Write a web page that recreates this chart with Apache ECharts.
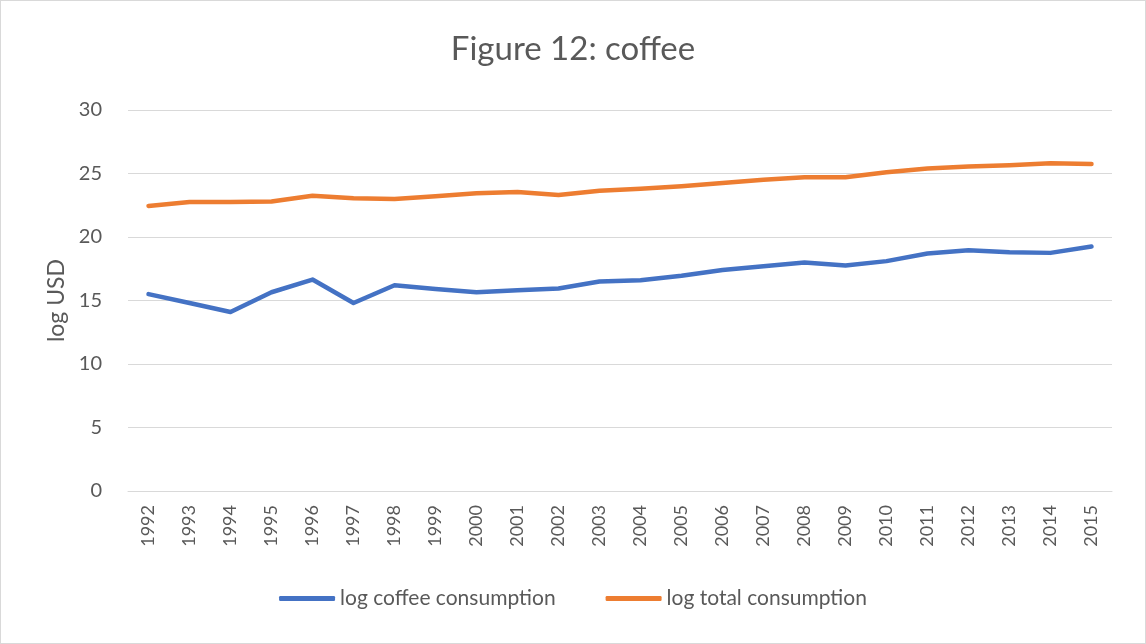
<!DOCTYPE html>
<html>
<head>
<meta charset="utf-8">
<script src="https://cdn.jsdelivr.net/npm/echarts@6/dist/echarts.min.js"></script>
<style>
  html, body { margin: 0; padding: 0; background: #fff; }
  #chart { width: 1144px; height: 642px; border: 1px solid #d9d9d9; }
</style>
</head>
<body>
<div id="chart"></div>
<script>
var years = ['1992', '1993', '1994', '1995', '1996', '1997', '1998', '1999', '2000', '2001', '2002', '2003',
  '2004', '2005', '2006', '2007', '2008', '2009', '2010', '2011', '2012', '2013', '2014', '2015'];
var coffee = [15.5, 14.8, 14.1, 15.65, 16.65, 14.8, 16.2, 15.9, 15.65, 15.8, 15.95, 16.5,
  16.6, 16.95, 17.4, 17.7, 18.0, 17.75, 18.1, 18.7, 18.95, 18.8, 18.75, 19.25];
var total = [22.45, 22.75, 22.75, 22.8, 23.25, 23.05, 23.0, 23.2, 23.45, 23.55, 23.3, 23.65,
  23.8, 24.0, 24.25, 24.5, 24.7, 24.7, 25.1, 25.4, 25.55, 25.65, 25.8, 25.75];
var yTicks = [0, 5, 10, 15, 20, 25, 30];

var chartDom = document.getElementById('chart');
var myChart = echarts.init(chartDom);
var font = 'Lato, "Noto Sans", sans-serif';
var option;

option = {
  animation: false,
  color: ['#4472C4', '#ED7D31'],
  title: {
    text: 'Figure 12: coffee',
    left: 'center',
    top: 27,
    textStyle: { fontFamily: font, fontSize: 33, fontWeight: 'normal', color: '#595959' }
  },
  legend: {
    bottom: 29,
    left: 'center',
    itemWidth: 56,
    itemHeight: 5,
    itemGap: 50,
    icon: 'roundRect',
    textStyle: { fontFamily: font, fontSize: 21, color: '#595959' },
    data: ['log coffee consumption', 'log total consumption']
  },
  grid: {
    left: 127,
    right: 33,
    top: 109,
    bottom: 152
  },
  xAxis: {
    type: 'category',
    data: years,
    boundaryGap: true,
    axisLine: { lineStyle: { color: '#d9d9d9', width: 1 } },
    axisTick: { show: false },
    axisLabel: {
      rotate: 90,
      margin: 14,
      fontFamily: font,
      fontSize: 18,
      color: '#595959'
    }
  },
  yAxis: {
    type: 'value',
    min: yTicks[0],
    max: yTicks[yTicks.length - 1],
    interval: 5,
    name: 'log USD',
    nameLocation: 'middle',
    nameGap: 60,
    nameTextStyle: { fontFamily: font, fontSize: 23, color: '#595959' },
    axisLine: { show: false },
    axisTick: { show: false },
    axisLabel: { margin: 26, fontFamily: font, fontSize: 20, color: '#595959' },
    splitLine: { lineStyle: { color: '#d9d9d9', width: 1 } }
  },
  series: [
    {
      name: 'log coffee consumption',
      type: 'line',
      data: coffee,
      symbol: 'none',
      lineStyle: { width: 4.5, cap: 'round', join: 'round' }
    },
    {
      name: 'log total consumption',
      type: 'line',
      data: total,
      symbol: 'none',
      lineStyle: { width: 4.5, cap: 'round', join: 'round' }
    }
  ]
};

option && myChart.setOption(option);
</script>
</body>
</html>
